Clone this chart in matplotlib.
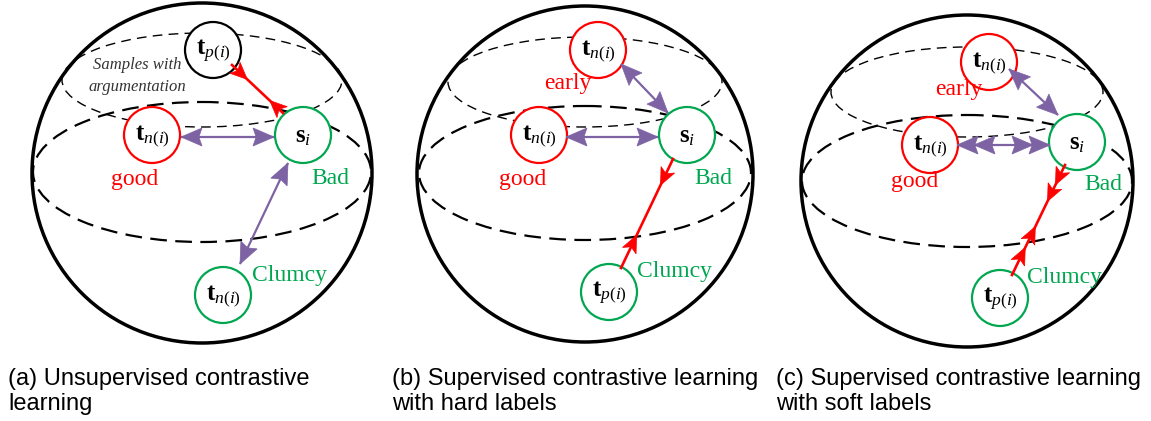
import numpy as np
import matplotlib
matplotlib.use("Agg")
import matplotlib.pyplot as plt
from matplotlib.patches import Circle, Ellipse, Polygon

plt.rcParams['mathtext.fontset'] = 'custom'
plt.rcParams['mathtext.rm'] = 'Liberation Serif'
plt.rcParams['mathtext.it'] = 'Liberation Serif:italic'
plt.rcParams['mathtext.bf'] = 'Liberation Serif:bold'

# big spheres, one per panel (pixel coords)
sphere_x = [202, 585, 967]
sphere_y = [173, 174, 181]
sphere_r = [170, 168, 166]

# equator ellipse and upper ellipse
eq_y = [172, 173, 181]
eq_a = [169, 166, 165]
eq_b = [70, 67, 66]
cap_y = [80, 82, 92]
cap_a = [140, 137, 136]
cap_b = [47, 45, 45]

# small circles (nodes)
node_x = [213, 152, 303, 223, 598, 539, 687, 609, 989, 930, 1077, 1000]
node_y = [50, 135, 135, 295, 50, 135, 135, 292, 62, 145, 142, 298]
node_col = ['k', 'r', 'g', 'g', 'r', 'r', 'g', 'g', 'r', 'r', 'g', 'g']
node_txt = [r'$\mathbf{t}_{p(i)}$', r'$\mathbf{t}_{n(i)}$', r'$\mathbf{s}_i$', r'$\mathbf{t}_{n(i)}$',
            r'$\mathbf{t}_{n(i)}$', r'$\mathbf{t}_{n(i)}$', r'$\mathbf{s}_i$', r'$\mathbf{t}_{p(i)}$',
            r'$\mathbf{t}_{n(i)}$', r'$\mathbf{t}_{n(i)}$', r'$\mathbf{s}_i$', r'$\mathbf{t}_{p(i)}$']
node_r = 28

# word labels
word_txt = ['good', 'Bad', 'Clumcy', 'early', 'good', 'Bad', 'Clumcy', 'early', 'good', 'Bad', 'Clumcy']
word_x = [135, 330, 290, 568, 523, 713, 675, 959, 915, 1103, 1065]
word_y = [180, 178, 275, 83, 179, 178, 272, 90, 182, 184, 278]
word_col = ['r', 'g', 'g', 'r', 'r', 'g', 'g', 'r', 'r', 'g', 'g']

# purple (repel) arrows: start, end, heads per end
purple = [(181, 137, 274, 137, 1), (288, 163, 240, 264, 1),
          (621, 64, 668, 113, 1), (566, 137, 658, 137, 1),
          (1009, 69, 1058, 115, 1), (957, 145, 1050, 145, 2)]

# red (attract) lines: start, end, head tips as fraction along line, pointing to (+1 end / -1 start)
red = [((232, 65, 283, 113), [(0.30, 1), (0.74, -1)]),
       ((673, 159, 621, 268), [(0.24, 1), (0.70, -1)]),
       ((1065, 165, 1012, 275), [(0.18, 1), (0.33, 1), (0.56, -1), (0.75, -1)])]

captions = ["(a) Unsupervised contrastive\nlearning",
            "(b) Supervised contrastive learning\nwith hard labels",
            "(c) Supervised contrastive learning\nwith soft labels"]
cap_x = [8, 392, 776]

PURPLE = '#7d63a3'
GREEN = '#00a650'
RED = '#ff0000'
cmap = {'k': 'black', 'r': RED, 'g': GREEN}


def head(ax, tip, d, length, width, color, notch=0.2):
    d = np.array(d, float)
    d = d / np.hypot(*d)
    n = np.array([-d[1], d[0]])
    tip = np.array(tip, float)
    base = tip - d * length
    pts = [tip, base + n * width / 2, tip - d * length * (1 - notch), base - n * width / 2]
    ax.add_patch(Polygon(pts, closed=True, fc=color, ec=color, lw=0.5, zorder=6))


fig = plt.figure(figsize=(11.51, 4.21), dpi=100)
ax = fig.add_axes([0, 0, 1, 1])
ax.set_xlim(0, 1151)
ax.set_ylim(421, 0)
ax.axis('off')

for i in range(3):
    ax.add_patch(Circle((sphere_x[i], sphere_y[i]), sphere_r[i], fill=False, lw=2.5, ec='black', zorder=3))
    ax.add_patch(Ellipse((sphere_x[i], eq_y[i]), 2 * eq_a[i], 2 * eq_b[i], fill=False, lw=1.6,
                         ls=(0, (7.5, 3.8)), ec='black', zorder=2))
    ax.add_patch(Ellipse((sphere_x[i], cap_y[i]), 2 * cap_a[i], 2 * cap_b[i], fill=False, lw=1.0,
                         ls=(0, (7, 4.5)), ec='black', zorder=2))
    ax.text(cap_x[i], 368, captions[i], fontsize=17, family='Liberation Sans', va='top', ha='left',
            linespacing=1.15)

for x, y, c, t in zip(node_x, node_y, node_col, node_txt):
    ax.add_patch(Circle((x, y), node_r, fc='white', ec=cmap[c], lw=1.6, zorder=4))
    ax.text(x, y + 1, t, fontsize=18, ha='center', va='center', zorder=5)

for t, x, y, c in zip(word_txt, word_x, word_y, word_col):
    ax.text(x, y, t, fontsize=17, family='Liberation Serif', color=cmap[c], ha='center', va='center', zorder=5)

ax.text(137, 65, 'Samples with', fontsize=12, family='Liberation Serif', style='italic',
        color='#333333', ha='center', va='center')
ax.text(137, 87, 'argumentation', fontsize=12, family='Liberation Serif', style='italic',
        color='#333333', ha='center', va='center')

for x0, y0, x1, y1, nh in purple:
    p0 = np.array([x0, y0], float)
    p1 = np.array([x1, y1], float)
    d = (p1 - p0) / np.hypot(*(p1 - p0))
    ax.plot([x0, x1], [y0, y1], color=PURPLE, lw=1.6, zorder=5, solid_capstyle='butt')
    for k in range(nh):
        head(ax, p1 - d * 17 * k, d, 21, 18, PURPLE, notch=0.15)
        head(ax, p0 + d * 17 * k, -d, 21, 18, PURPLE, notch=0.15)

for (x0, y0, x1, y1), tips in red:
    p0 = np.array([x0, y0], float)
    p1 = np.array([x1, y1], float)
    ax.plot([x0, x1], [y0, y1], color=RED, lw=1.9, zorder=5)
    for f, s in tips:
        head(ax, p0 + (p1 - p0) * f, (p1 - p0) * s, 17, 15, RED, notch=0.25)

fig.savefig('out.png', dpi=100)
